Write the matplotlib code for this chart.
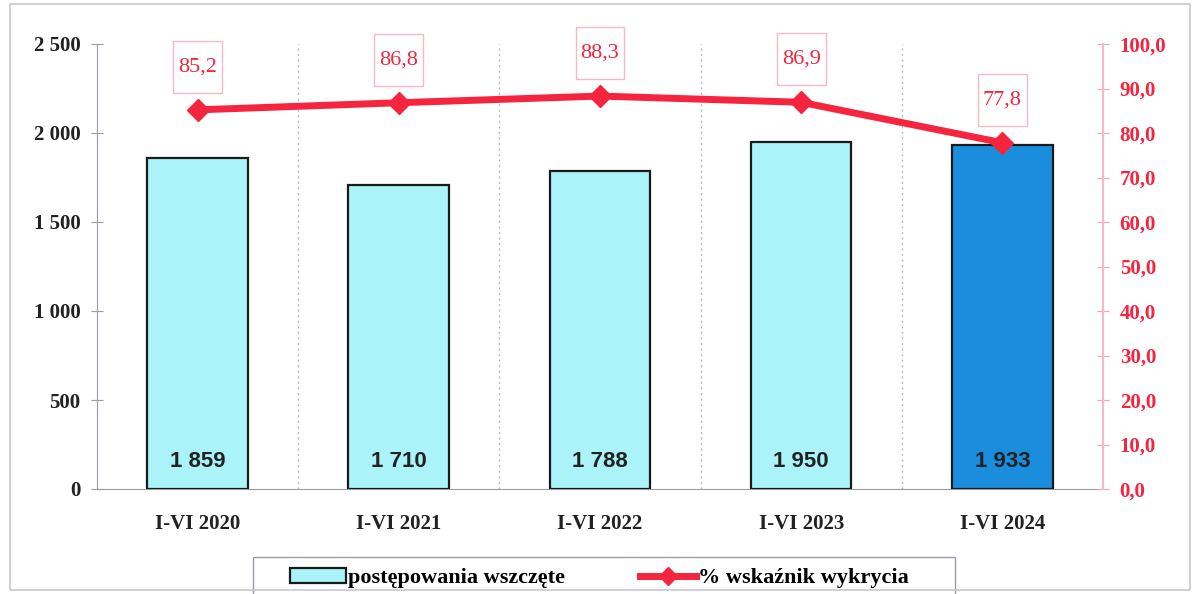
import numpy as np
import matplotlib.pyplot as plt
from matplotlib.lines import Line2D
from matplotlib.patches import Patch, Rectangle

# dane
okresy = ['I-VI 2020', 'I-VI 2021', 'I-VI 2022', 'I-VI 2023', 'I-VI 2024']
wszczete = [1859, 1710, 1788, 1950, 1933]
wskaznik = [85.2, 86.8, 88.3, 86.9, 77.8]

jasny = '#AAF3F8'
ciemny = '#1A8EDC'
czerwony = '#F5243F'
serif = ['Liberation Serif', 'DejaVu Serif']

fig = plt.figure(figsize=(11.97, 5.94), dpi=100)
ax = fig.add_axes([97/1197, 1-489/594, (1103-97)/1197, (489-44)/594])
ax2 = ax.twinx()

x = np.arange(len(okresy))
kolory = [jasny]*(len(okresy)-1) + [ciemny]
ax.bar(x, wszczete, width=0.5, color=kolory, edgecolor='#1a1a1a', linewidth=1.6, zorder=3)
for xi, v in zip(x, wszczete):
    ax.annotate(f'{v:,}'.replace(',', ' '), (xi, 0), xytext=(0, 20), textcoords='offset points',
                ha='center', va='center', fontsize=16, fontweight='bold',
                family='Liberation Sans', color='#222222', zorder=5)

ax.set_xlim(-0.5, 4.5)
ax.set_ylim(0, 2500)
ax.set_yticks(np.arange(0, 2501, 500))
ax.set_yticklabels([f'{v:,}'.replace(',', ' ') for v in range(0, 2501, 500)],
                   family=serif, fontsize=15, fontweight='bold', color='#222222')
ax.set_xticks(x)
ax.set_xticklabels(okresy, family=serif, fontsize=15, fontweight='bold', color='#222222')
ax.tick_params(axis='x', length=0, pad=18)
ax.tick_params(axis='y', direction='inout', length=8, color='#9a9aa8', pad=8)
for b in np.arange(0.5, 4.5, 1):
    ax.axvline(b, color='#b8b8c0', linestyle=(0, (1.5, 2.5)), linewidth=1, zorder=1)
for s in ['top', 'right']:
    ax.spines[s].set_visible(False)
ax.spines['left'].set_color('#9a9aa8')
ax.spines['bottom'].set_color('#9a9aa8')

ax2.plot(x, wskaznik, color=czerwony, linewidth=5, marker='D', markersize=11, zorder=4)
for xi, v in zip(x, wskaznik):
    ax2.annotate(f'{v:.1f}'.replace('.', ','), (xi, v), xytext=(0, 31), textcoords='offset points',
                 ha='center', va='center', fontsize=16, family=serif, color=czerwony,
                 bbox=dict(boxstyle='square,pad=0.22', mutation_aspect=3.4,
                           fc='white', ec='#F7B8C6', lw=1))
ax2.set_ylim(0, 100)
ax2.set_yticks(np.arange(0, 101, 10))
ax2.set_yticklabels([f'{v},0' for v in range(0, 101, 10)], family=serif, fontsize=15,
                    fontweight='bold', color=czerwony)
ax2.tick_params(axis='y', direction='inout', length=8, color='#F5A0B5', pad=8)
for s in ['top', 'left', 'bottom']:
    ax2.spines[s].set_visible(False)
ax2.spines['right'].set_color('#F8B8C8')
ax2.spines['right'].set_linewidth(1.5)
ax.set_zorder(ax2.get_zorder() - 1)
ax.patch.set_visible(False)
ax2.patch.set_visible(False)

# ramka legendy (ucięta u dołu jak w oryginale)
fig.patches.append(Rectangle((253/1197, -10/594), 702/1197, 47/594, transform=fig.transFigure,
                             fill=False, edgecolor='#9a9aa8', linewidth=1))
uchwyty = [Patch(facecolor=jasny, edgecolor='#1a1a1a', linewidth=1.6),
           Line2D([], [], color=czerwony, linewidth=5, marker='D', markersize=9)]
fig.legend(uchwyty, ['postępowania wszczęte', '% wskaźnik wykrycia'],
           loc='center left', bbox_to_anchor=(290/1197, 1-578/594), ncol=2,
           borderaxespad=0, borderpad=0, frameon=False,
           handlelength=2.5, handletextpad=0.1, columnspacing=3.4,
           prop={'family': serif, 'size': 16, 'weight': 'bold'})

fig.patches.append(Rectangle((10/1197, 4/594), 1180/1197, 586/594, transform=fig.transFigure,
                             fill=False, edgecolor='#c8c8d0', linewidth=1.2))

fig.savefig('out.png', dpi=100)
